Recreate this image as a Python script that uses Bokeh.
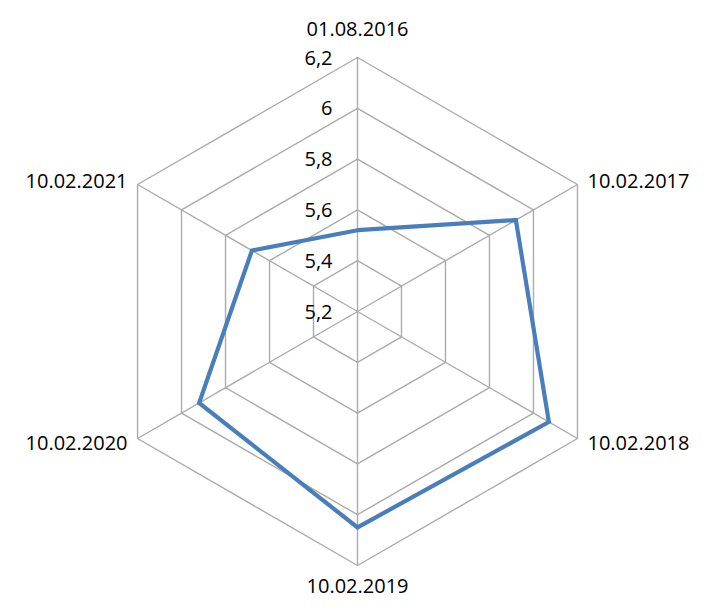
import numpy as np
from bokeh.plotting import figure
from bokeh.models import Range1d, ColumnDataSource
from bokeh.embed import file_html
from bokeh.resources import INLINE
from bokeh.core.properties import value

categories = ["01.08.2016", "10.02.2017", "10.02.2018", "10.02.2019", "10.02.2020", "10.02.2021"]
values = [5.52, 5.92, 6.07, 6.05, 5.92, 5.68]
tick_values = [5.2, 5.4, 5.6, 5.8, 6.0, 6.2]
tick_labels = ["5,2", "5,4", "5,6", "5,8", "6", "6,2"]
r_min, r_max = 5.2, 6.2

W, H = 695, 599
cx, cy = 357, 311
R = 254

p = figure(width=W, height=H, x_range=Range1d(-cx, W - cx), y_range=Range1d(-(H - cy), cy),
           output_backend="svg", toolbar_location=None, min_border=0)
p.axis.visible = False
p.grid.visible = False
p.outline_line_color = None
p.background_fill_color = "white"
p.border_fill_color = "white"

n = len(categories)
theta = np.pi / 2 - np.arange(n) * 2 * np.pi / n


def rad(v):
    return (np.asarray(v, dtype=float) - r_min) / (r_max - r_min) * R


grid_color = "#ABABAB"
# rings
for tv in tick_values[1:]:
    r = rad(tv)
    xs = list(r * np.cos(theta)) + [r * np.cos(theta[0])]
    ys = list(r * np.sin(theta)) + [r * np.sin(theta[0])]
    p.line(xs, ys, line_color=grid_color, line_width=1.4)
# spokes
rout = rad(r_max)
for t in theta:
    p.line([0, rout * np.cos(t)], [0, rout * np.sin(t)], line_color=grid_color, line_width=1.4)

# series
rv = rad(values)
sx = list(rv * np.cos(theta)) + [rv[0] * np.cos(theta[0])]
sy = list(rv * np.sin(theta)) + [rv[0] * np.sin(theta[0])]
p.line(sx, sy, line_color="#4A7EBB", line_width=4.2, line_join="miter")

font = value("Open Sans")
fs = "20px"

# tick labels
p.text(x=[-25] * len(tick_values), y=list(rad(tick_values)), text=tick_labels,
       text_font=font, text_font_size=fs, text_align="right", text_baseline="middle",
       text_color="#000000")

# category labels
vx = rout * np.cos(theta)
vy = rout * np.sin(theta)
offx = [0, 10, 10, 0, -10, -10]
offy = [28.5, 4, -4, -20, -4, 4]
aligns = ["center", "left", "left", "center", "right", "right"]
src = ColumnDataSource(dict(x=vx + np.array(offx), y=vy + np.array(offy), t=categories, a=aligns))
p.text(x="x", y="y", text="t", text_align="a", source=src, text_font=font, text_font_size=fs,
       text_baseline="middle", text_color="#000000")

open("out.html", "w").write(file_html(p, INLINE))
